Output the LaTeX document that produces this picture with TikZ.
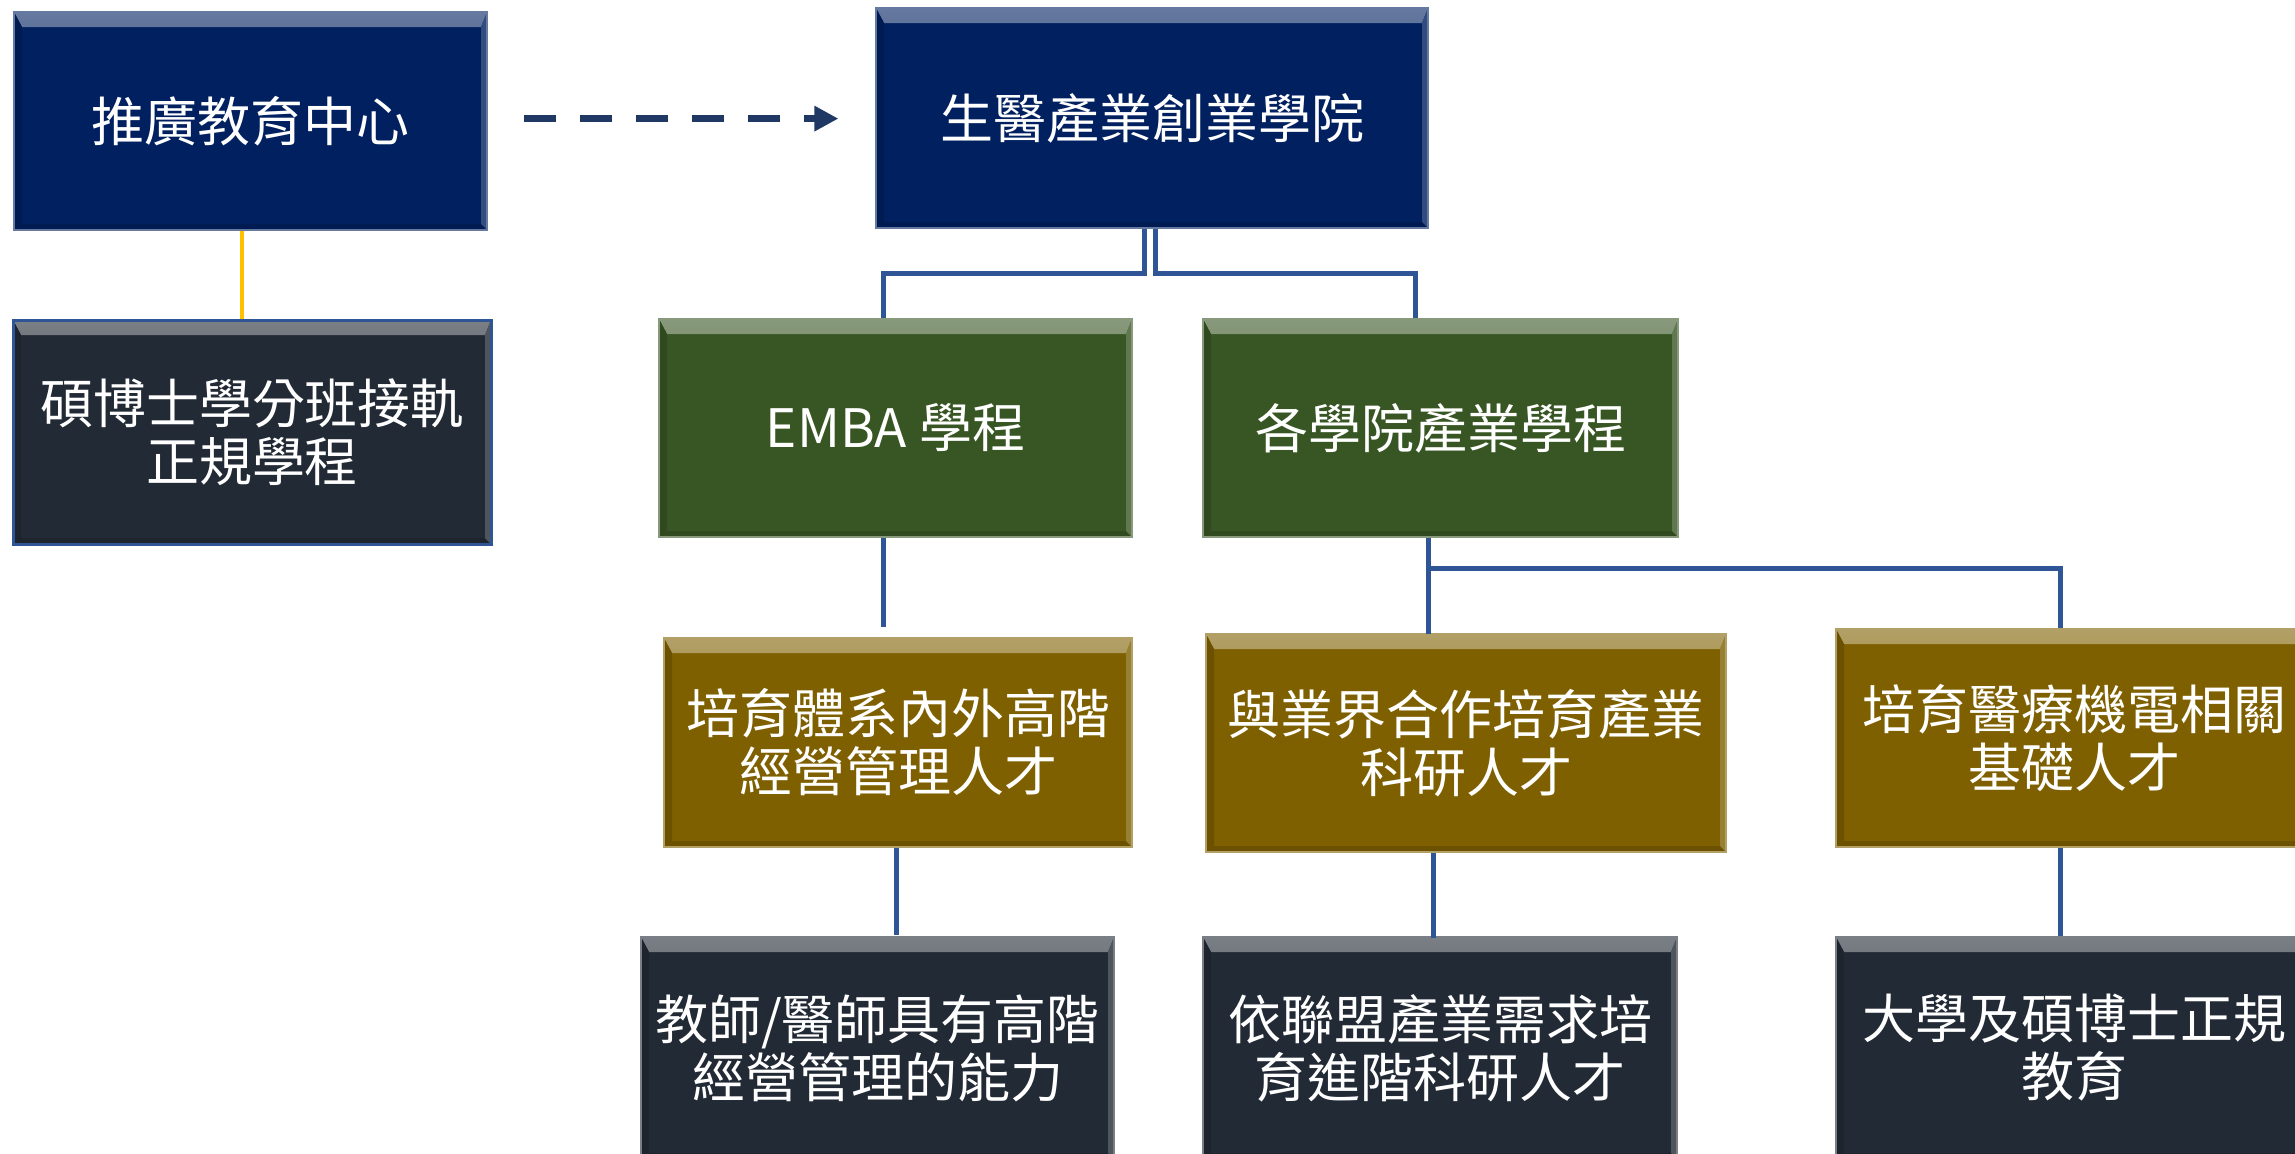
\documentclass[tikz,border=0pt]{standalone}
\usepackage{fontspec}
\setmainfont{Noto Sans CJK TC}
\usetikzlibrary{arrows.meta}
\definecolor{navy}{HTML}{002060}
\definecolor{darkbox}{HTML}{222A35}
\definecolor{greenbox}{HTML}{385623}
\definecolor{goldbox}{HTML}{7F6000}
\definecolor{conncol}{HTML}{2F5597}
\definecolor{yelcol}{HTML}{FFC000}
\definecolor{arrcol}{HTML}{203864}
\tikzset{
  bev/.style={fill=#1, draw=#1!60!white, line width=1.2pt, inner sep=0pt,
    text=white, align=center, font=\fontsize{53}{58}\selectfont,
    path picture={
      \shade[top color=#1!60!white, bottom color=#1]
        (path picture bounding box.north west) -- (path picture bounding box.north east)
        -- ([xshift=-6pt,yshift=-15pt]path picture bounding box.north east)
        -- ([xshift=8pt,yshift=-15pt]path picture bounding box.north west) -- cycle;
      \fill[#1!85!black]
        (path picture bounding box.north west)
        -- ([xshift=8pt,yshift=-15pt]path picture bounding box.north west)
        -- ([xshift=8pt,yshift=6pt]path picture bounding box.south west)
        -- (path picture bounding box.south west) -- cycle;
      \fill[#1!85!black]
        (path picture bounding box.south west)
        -- ([xshift=8pt,yshift=6pt]path picture bounding box.south west)
        -- ([xshift=-6pt,yshift=6pt]path picture bounding box.south east)
        -- (path picture bounding box.south east) -- cycle;
      \fill[#1!80!white]
        (path picture bounding box.north east)
        -- ([xshift=-6pt,yshift=-15pt]path picture bounding box.north east)
        -- ([xshift=-6pt,yshift=6pt]path picture bounding box.south east)
        -- (path picture bounding box.south east) -- cycle;
    }},
  conn/.style={draw=conncol, line width=5pt},
  yel/.style={draw=yelcol, line width=4pt},
  dasharrow/.style={draw=arrcol, line width=7pt, dash pattern=on 32pt off 24pt,
    -{Triangle[length=24pt,width=24pt]}},
}
\begin{document}
\begin{tikzpicture}[x=1pt,y=-1pt]
\useasboundingbox (0,0) rectangle (2295,1154);
\clip (0,0) rectangle (2295,1154);
\fill[white] (0,0) rectangle (2295,1154);

% boxes
\node[bev=navy, minimum width=473pt, minimum height=218pt] (tuiguang) at (250.5,121) {推廣教育中心};
\node[bev=darkbox, draw=conncol, line width=3pt, minimum width=478pt, minimum height=224pt] (shuobo) at (252,432) {碩博士學分班接軌\\正規學程};
\node[bev=navy, minimum width=552pt, minimum height=220pt] (shengyi) at (1152,118) {生醫產業創業學院};
\node[bev=greenbox, minimum width=473pt, minimum height=218pt] (emba) at (895.5,428) {EMBA 學程};
\node[bev=greenbox, minimum width=475pt, minimum height=218pt] (gexue) at (1440.5,428) {各學院產業學程};
\node[bev=goldbox, minimum width=468pt, minimum height=209pt] (peiyuA) at (898,742.5) {培育體系內外高階\\經營管理人才};
\node[bev=goldbox, minimum width=520pt, minimum height=218pt] (yuye) at (1466,743) {與業界合作培育產業\\科研人才};
\node[bev=goldbox, minimum width=476pt, minimum height=218pt] (peiyuB) at (2074,738) {培育醫療機電相關\\基礎人才};
\node[bev=darkbox, minimum width=473pt, minimum height=222pt] (jiaoshi) at (877.5,1048) {教師/醫師具有高階\\經營管理的能力};
\node[bev=darkbox, minimum width=474pt, minimum height=222pt] (yilian) at (1440,1048) {依聯盟產業需求培\\育進階科研人才};
\node[bev=darkbox, minimum width=476pt, minimum height=222pt] (daxue) at (2074,1048) {大學及碩博士正規\\教育};

% coordinates
\coordinate (yX) at (242,0);
\coordinate (sL) at (1144,273);
\coordinate (sR) at (1155,273);
\coordinate (eT) at (883,273);
\coordinate (gT) at (1415,273);
\coordinate (eB) at (883,627);
\coordinate (pB) at (896,935);
\coordinate (gJ) at (1428.5,568);
\coordinate (gB) at (1428.5,634);
\coordinate (rJ) at (2060,568);
\coordinate (yB) at (1433,938);
\coordinate (aY) at (0,118.6);

% connectors
\draw[yel] (yX |- tuiguang.south) -- (yX |- shuobo.north);
\draw[dasharrow, shorten <=36pt, shorten >=37pt] (tuiguang.east |- aY) -- (shengyi.west |- aY);
\draw[conn] (sL |- shengyi.south) -- (sL) -- (eT) -- (eT |- emba.north);
\draw[conn] (sR |- shengyi.south) -- (sR) -- (gT) -- (gT |- gexue.north);
\draw[conn] (eB |- emba.south) -- (eB);
\draw[conn] (pB |- peiyuA.south) -- (pB);
\draw[conn] (gJ |- gexue.south) -- (gB);
\draw[conn] (gJ) -- (rJ) -- (rJ |- peiyuB.north);
\draw[conn] (yB |- yuye.south) -- (yB);
\draw[conn] (rJ |- peiyuB.south) -- (rJ |- daxue.north);
\end{tikzpicture}
\end{document}
